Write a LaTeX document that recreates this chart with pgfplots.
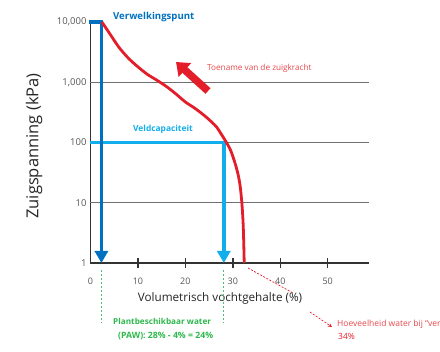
\documentclass[border=0pt]{standalone}
\usepackage{fontspec}
\setmainfont{Open Sans}
\usepackage{pgfplots}
\pgfplotsset{compat=1.18}
\usetikzlibrary{arrows.meta}
\definecolor{dblue}{HTML}{0070C0}
\definecolor{lblue}{HTML}{12AEEB}
\definecolor{cred}{HTML}{E31E2A}
\definecolor{tred}{HTML}{E8474B}
\definecolor{cgreen}{HTML}{2DB84B}
\definecolor{dgreen}{HTML}{4CC07A}
\definecolor{axgray}{HTML}{333333}
\definecolor{grgray}{HTML}{707070}
\definecolor{labgray}{HTML}{555555}
\begin{document}
\begin{tikzpicture}
\path[use as bounding box] (0,0) rectangle (440pt,-352pt);
\begin{axis}[
  at={(90.5pt,-263pt)}, anchor=south west,
  scale only axis, width=278.5pt, height=241pt,
  xmin=0, xmax=58.7, ymode=log, ymin=1, ymax=10000,
  clip=false,
  axis x line*=bottom, axis y line*=left,
  axis line style={-, draw=axgray, line width=1.8pt},
  xtick={10,20,30,40,50},
  extra x ticks={0}, extra x tick style={x tick style={draw=none}},
  major tick length=11pt, tick align=center,
  x tick style={draw=axgray, line width=1.5pt},
  ytick={1,10,100,1000,10000},
  yticklabels={1,10,100,{1,000},{10,000}},
  y tick style={draw=none},
  minor tick num=0, log basis y=10,
  /pgf/number format/assume math mode=true,
  tick label style={text=labgray},
  xticklabel style={font=\fontsize{9}{10}\selectfont, anchor=center, yshift=-13pt},
  yticklabel style={font=\fontsize{9.5}{10}\selectfont, xshift=5pt},
]
% grid lines
\addplot[grgray, line width=1.3pt] coordinates {(0,1000) (58.7,1000)};
\addplot[grgray, line width=1.3pt] coordinates {(0,100) (58.7,100)};
\addplot[grgray, line width=1.3pt] coordinates {(0,10) (58.7,10)};
% field capacity
\addplot[lblue, line width=3.5pt, line join=miter, -{Triangle[width=13pt,length=12pt]}] coordinates {(0,100) (28.1,100) (28.1,1)};
% wilting point
\addplot[dblue, line width=3.5pt, line join=miter, -{Triangle[width=13pt,length=12pt]}] coordinates {(-0.3,10000) (2.3,10000) (2.3,1)};
% retention curve
\addplot[cred, line width=2.8pt, smooth, tension=0.5] coordinates {
(2.4,10000) (4,6500) (6,3800) (8,2500) (10,1800) (12,1350) (14,1080)
(16,850) (18,640) (20,470) (22,370) (24,280) (25.5,220) (26.6,180)
(27.5,140) (28.5,105) (29.5,75) (30.3,50) (31,32) (31.5,20) (31.9,10)
(32.2,4) (32.4,1)};
\end{axis}
% red arrow
\draw[cred, line width=7.5pt, -{Triangle[width=18pt,length=12pt]}] (208pt,-91pt) -- (176pt,-62pt);
% labels
\node[rotate=90, font=\fontsize{16.5}{18}\selectfont, text=black!85] at (34pt,-146pt) {Zuigspanning (kPa)};
\node[font=\fontsize{11.7}{13}\selectfont, text=black!85] at (220pt,-298pt) {Volumetrisch vochtgehalte (\%)};
\node[anchor=west, font=\bfseries\fontsize{9.6}{11}\selectfont, text=dblue, inner sep=0pt] at (113pt,-17pt) {Verwelkingspunt};
\node[anchor=west, font=\bfseries\fontsize{8.4}{10}\selectfont, text=lblue, inner sep=0pt] at (133pt,-129pt) {Veldcapaciteit};
\node[anchor=west, font=\fontsize{8.2}{10}\selectfont, text=tred, inner sep=0pt] at (207pt,-68pt) {Toename van de zuigkracht};
\node[anchor=west, font=\bfseries\fontsize{8.2}{10}\selectfont, text=cgreen, inner sep=0pt] at (113pt,-321pt) {Plantbeschikbaar water};
\node[anchor=west, font=\bfseries\fontsize{8.7}{10}\selectfont, text=cgreen, inner sep=0pt] at (118pt,-336pt) {(PAW): 28\% - 4\% = 24\%};
\node[anchor=west, font=\fontsize{8.5}{10}\selectfont, text=tred, inner sep=0pt] at (337pt,-324pt) {Hoeveelheid water bij “verzadiging”};
\node[anchor=west, font=\fontsize{8.5}{10}\selectfont, text=cred, inner sep=0pt] at (338pt,-336pt) {34\%};
% green dashed lines
\draw[dgreen, line width=0.8pt, dash pattern=on 2pt off 2pt] (101pt,-270pt) -- (101pt,-323pt);
\draw[dgreen, line width=0.8pt, dash pattern=on 2pt off 2pt] (223pt,-270pt) -- (223pt,-323pt);
% red dashed arrow
\draw[cred, line width=0.7pt, dash pattern=on 2pt off 1.5pt] (248pt,-268pt) -- (293pt,-293pt);
\draw[cred, line width=0.7pt, dash pattern=on 2pt off 1.5pt, -{Stealth[width=4pt,length=4pt]}] (310pt,-312pt) -- (332pt,-327pt);
\end{tikzpicture}
\end{document}
